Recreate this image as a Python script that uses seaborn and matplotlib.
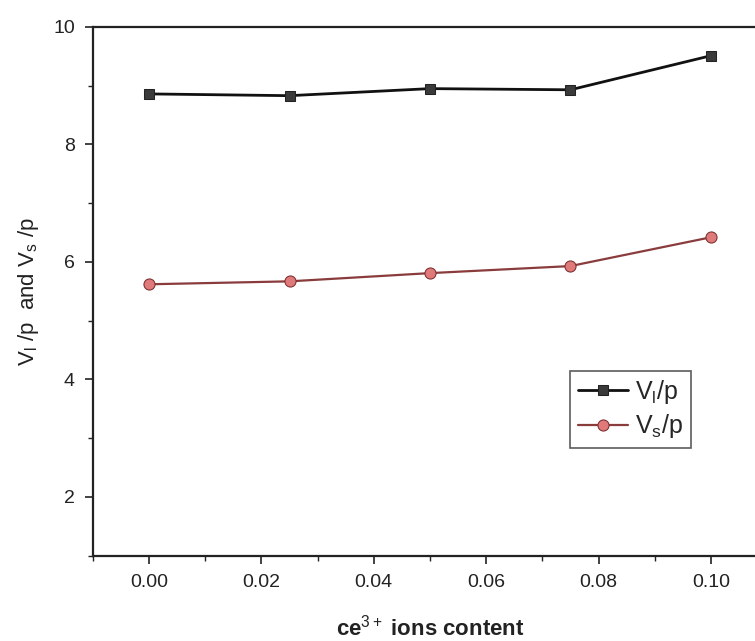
import numpy as np
import pandas as pd
import matplotlib
matplotlib.use('Agg')
import matplotlib.pyplot as plt
import seaborn as sns
from matplotlib.ticker import MultipleLocator

# 数据
ce_content = [0.0, 0.025, 0.05, 0.075, 0.10]
vl_p = [8.86, 8.83, 8.95, 8.93, 9.51]
vs_p = [5.62, 5.67, 5.81, 5.93, 6.42]
series_labels = ['V$_l$/p', 'V$_s$/p']

sns.set_style('ticks')
plt.rcParams['font.family'] = ['Liberation Sans', 'DejaVu Sans']
plt.rcParams['mathtext.fontset'] = 'custom'
plt.rcParams['mathtext.rm'] = 'Liberation Sans'
plt.rcParams['mathtext.it'] = 'Liberation Sans'
plt.rcParams['mathtext.bf'] = 'Liberation Sans:bold'

df = pd.DataFrame({
    'x': ce_content * 2,
    'y': vl_p + vs_p,
    'series': [series_labels[0]] * len(ce_content) + [series_labels[1]] * len(ce_content),
})

fig = plt.figure(figsize=(7.55, 6.41), dpi=100)
ax = fig.add_axes([0.123, 0.133, 0.893, 0.825])

sns.lineplot(data=df[df['series'] == series_labels[0]], x='x', y='y', ax=ax,
             color='#111111', marker='s', markersize=7, markerfacecolor='#3a3a3a',
             markeredgecolor='#222222', linewidth=2, label=series_labels[0])
sns.lineplot(data=df[df['series'] == series_labels[1]], x='x', y='y', ax=ax,
             color='#8a3c3c', marker='o', markersize=8, markerfacecolor='#e07a7a',
             markeredgecolor='#7a2e2e', linewidth=1.6, label=series_labels[1])

ax.set_xlim(-0.01, 0.11)
ax.set_ylim(1, 10)
ax.xaxis.set_major_locator(MultipleLocator(0.02))
ax.xaxis.set_minor_locator(MultipleLocator(0.01))
ax.yaxis.set_major_locator(MultipleLocator(2))
ax.yaxis.set_minor_locator(MultipleLocator(1))
ax.xaxis.set_major_formatter(matplotlib.ticker.FormatStrFormatter('%.2f'))

for s in ax.spines.values():
    s.set_visible(True)
    s.set_linewidth(1.6)
    s.set_color('#222222')

ax.tick_params(which='major', direction='out', length=6, width=1.2, labelsize=14, colors='#222222', pad=7)
ax.tick_params(which='minor', direction='out', length=3.5, width=1.0, colors='#222222')

ax.set_xlabel('ce$^{3+}$ ions content', fontsize=16, fontweight='bold', labelpad=17, color='#222222')
ax.set_ylabel('V$_l$ /p  and V$_s$ /p', fontsize=16, labelpad=9, color='#222222')

leg = ax.legend(loc='upper left', bbox_to_anchor=(0.708, 0.35), fontsize=18,
                frameon=True, fancybox=False, edgecolor='#333333', handlelength=2.0,
                borderpad=0.3, handletextpad=0.3, labelspacing=0.25, borderaxespad=0)
leg.get_frame().set_linewidth(1.2)

fig.savefig('out.png', dpi=100)
